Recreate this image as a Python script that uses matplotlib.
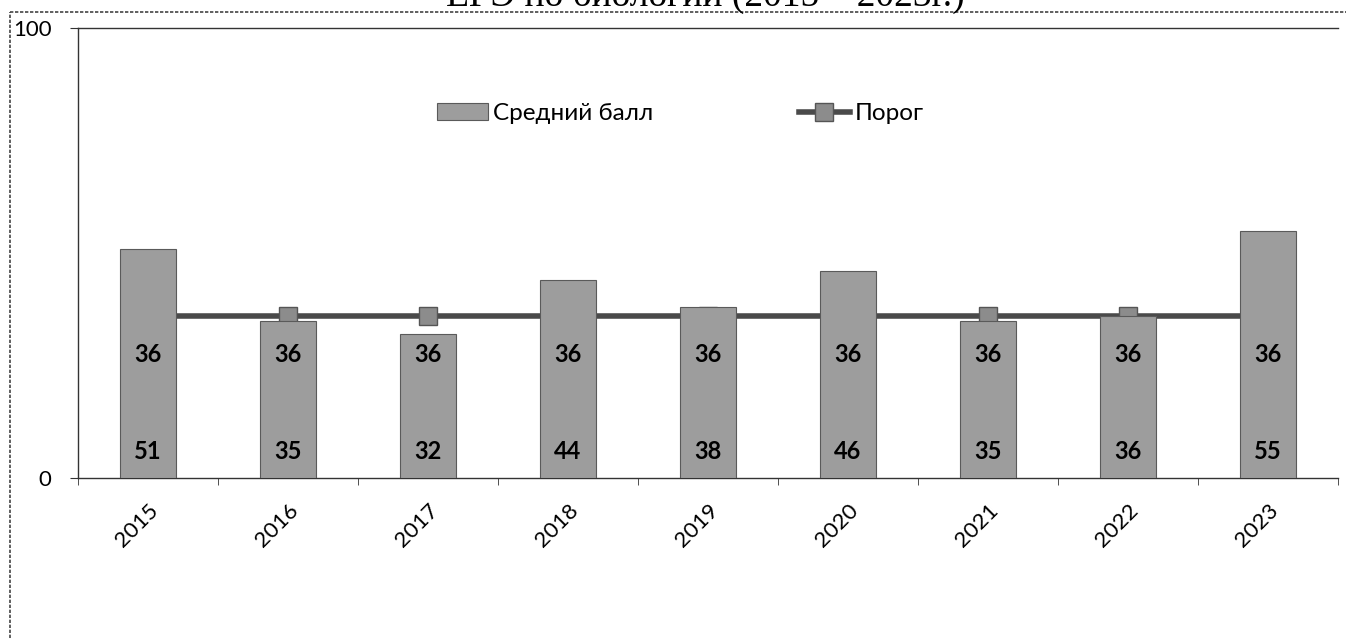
import matplotlib.pyplot as plt
from matplotlib.lines import Line2D

years = ['2015', '2016', '2017', '2018', '2019', '2020', '2021', '2022', '2023']
avg_score = [51, 35, 32, 44, 38, 46, 35, 36, 55]
threshold = [36, 36, 36, 36, 36, 36, 36, 36, 36]

plt.rcParams['font.family'] = ['Lato', 'DejaVu Sans']

fig = plt.figure(figsize=(13.46, 6.38), dpi=100)
ax = fig.add_axes([78/1346, 1 - 478/638, 1260/1346, 450/638])

x = list(range(len(years)))
line, = ax.plot(x, threshold, color='#4a4a4a', lw=4, marker='s', markersize=13,
                markerfacecolor='#8c8c8c', markeredgecolor='#555555', markeredgewidth=1,
                label='Порог', zorder=2)
bars = ax.bar(x, avg_score, width=0.4, color='#9d9d9d', edgecolor='#5a5a5a',
              linewidth=0.8, label='Средний балл', zorder=3)

# data labels
for i in x:
    ax.annotate(str(avg_score[i]), (i, 0), xytext=(0, 19), textcoords='offset points',
                ha='center', va='center', fontsize=17, fontweight='bold', zorder=5)
    ax.annotate(str(threshold[i]), (i, threshold[i]), xytext=(0, -28),
                textcoords='offset points', ha='center', va='center',
                fontsize=17, fontweight='bold', zorder=5)

ax.set_xlim(-0.5, len(years) - 0.5)
ax.set_ylim(0, 100)
ax.set_yticks([0, 100])
ax.tick_params(axis='y', labelsize=16, length=6, color='#333333', pad=13)
ax.set_xticks(x)
ax.set_xticklabels(years, rotation=45, ha='right', va='top', rotation_mode='anchor',
                   fontsize=16)
ax.tick_params(axis='x', length=0, pad=16)
# ticks at category boundaries
ax.set_xticks([i - 0.5 for i in range(len(years) + 1)], minor=True)
ax.tick_params(axis='x', which='minor', length=5, color='#333333')

for s in ['left', 'bottom', 'top']:
    ax.spines[s].set_color('#333333')
    ax.spines[s].set_linewidth(1)
ax.spines['top'].set_linestyle((0, (2, 1)))
ax.spines['bottom'].set_linestyle((0, (2, 1)))
ax.spines['right'].set_visible(False)

ax.legend([bars, line], ['Средний балл', 'Порог'], loc='center',
          bbox_to_anchor=(0.478, 0.81), ncol=2, frameon=False,
          fontsize=17.5, columnspacing=6, handlelength=2.1, handletextpad=0.2)

# outer chart frame
fig.add_artist(Line2D([10/1346, 10/1346], [0, 1 - 12/638], color='#444444', lw=1.2,
                      linestyle=(0, (2, 1))))
fig.add_artist(Line2D([10/1346, 1], [1 - 12/638, 1 - 12/638], color='#444444', lw=1.2,
                      linestyle=(0, (2, 1))))

# title, cut off by the top edge as in the scan
fig.text(705/1346, 1 - 6/638, 'ЕГЭ по биологии (2015 – 2023г.)', ha='center',
         va='baseline', fontsize=27, family=['Liberation Serif', 'DejaVu Serif'])

fig.savefig('out.png', dpi=100)
